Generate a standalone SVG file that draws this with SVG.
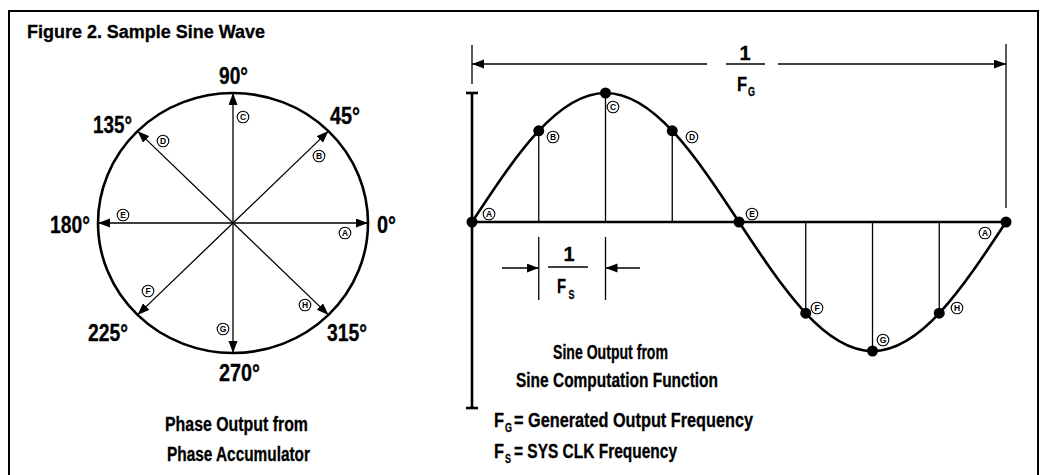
<svg xmlns="http://www.w3.org/2000/svg" width="1040" height="475" viewBox="0 0 1040 475">
<style>
.t{font-family:"Liberation Sans",Arial,sans-serif;font-weight:bold;fill:#000;stroke:#000;stroke-width:0.3}
.deg{font-size:23px}
.lbl{font-size:20px}
.sub{font-size:12px}
.ln{stroke:#000;stroke-width:1.3;fill:none}
.thk{stroke:#000;stroke-width:2.6;fill:none}
.cl circle{fill:#fff;stroke:#000;stroke-width:1.1}
.cl text{font-family:"Liberation Sans",Arial,sans-serif;font-weight:bold;font-size:8.5px;text-anchor:middle}
</style>
<defs>
<marker id="ah" markerUnits="userSpaceOnUse" markerWidth="13" markerHeight="10" refX="12" refY="4.5" orient="auto">
<path d="M0,0 L12,4.5 L0,9 z" fill="#000"/>
</marker>
</defs>
<rect width="1040" height="475" fill="#fff"/>
<path d="M9,475 V11 H1038 V475" fill="none" stroke="#000" stroke-width="2"/>
<text class="t" x="27" y="38" font-size="18" textLength="238" lengthAdjust="spacingAndGlyphs">Figure 2. Sample Sine Wave</text>

<g id="phase-circle">
<ellipse cx="233" cy="223" rx="135" ry="130" class="thk"/>
</g>
<g id="phase-arrows">
<line x1="233" y1="223" x2="368" y2="223" class="ln" marker-end="url(#ah)"/>
<line x1="233" y1="223" x2="328.5" y2="131.1" class="ln" marker-end="url(#ah)"/>
<line x1="233" y1="223" x2="233" y2="93" class="ln" marker-end="url(#ah)"/>
<line x1="233" y1="223" x2="137.5" y2="131.1" class="ln" marker-end="url(#ah)"/>
<line x1="233" y1="223" x2="98" y2="223" class="ln" marker-end="url(#ah)"/>
<line x1="233" y1="223" x2="137.5" y2="314.9" class="ln" marker-end="url(#ah)"/>
<line x1="233" y1="223" x2="233" y2="353" class="ln" marker-end="url(#ah)"/>
<line x1="233" y1="223" x2="328.5" y2="314.9" class="ln" marker-end="url(#ah)"/>
</g>
<g id="phase-degrees">
<text class="t deg" x="219" y="84" textLength="29" lengthAdjust="spacingAndGlyphs">90°</text>
<text class="t deg" x="330" y="124" textLength="30" lengthAdjust="spacingAndGlyphs">45°</text>
<text class="t deg" x="93" y="133" textLength="39" lengthAdjust="spacingAndGlyphs">135°</text>
<text class="t deg" x="50" y="233" textLength="40" lengthAdjust="spacingAndGlyphs">180°</text>
<text class="t deg" x="377" y="233" textLength="19" lengthAdjust="spacingAndGlyphs">0°</text>
<text class="t deg" x="88" y="341" textLength="40" lengthAdjust="spacingAndGlyphs">225°</text>
<text class="t deg" x="327" y="341" textLength="40" lengthAdjust="spacingAndGlyphs">315°</text>
<text class="t deg" x="219" y="381" textLength="41" lengthAdjust="spacingAndGlyphs">270°</text>
</g>
<g id="phase-letters" class="cl">
<g id="pA"><circle cx="345" cy="233" r="5.8"/><text x="345" y="236">A</text></g>
<g id="pB"><circle cx="319" cy="156" r="5.8"/><text x="319" y="159">B</text></g>
<g id="pC"><circle cx="243" cy="117" r="5.8"/><text x="243" y="120">C</text></g>
<g id="pD"><circle cx="163" cy="141" r="5.8"/><text x="163" y="144">D</text></g>
<g id="pE"><circle cx="123" cy="215" r="5.8"/><text x="123" y="218">E</text></g>
<g id="pF"><circle cx="148" cy="291" r="5.8"/><text x="148" y="294">F</text></g>
<g id="pG"><circle cx="223" cy="329" r="5.8"/><text x="223" y="332">G</text></g>
<g id="pH"><circle cx="305" cy="305" r="5.8"/><text x="305" y="308">H</text></g>
</g>
<g id="phase-caption">
<text class="t lbl" x="165" y="431" textLength="143" lengthAdjust="spacingAndGlyphs">Phase Output from</text>
<text class="t lbl" x="167" y="461" textLength="143" lengthAdjust="spacingAndGlyphs">Phase Accumulator</text>
</g>

<g id="sine-axes">
<line x1="472" y1="93" x2="472" y2="408" class="thk"/>
<line x1="466" y1="93" x2="478" y2="93" class="thk"/>
<line x1="466" y1="408" x2="478" y2="408" class="thk"/>
<line x1="472" y1="222" x2="1006" y2="222" class="thk"/>
</g>
<g id="sine-verticals">
<line x1="538.75" y1="130.8" x2="538.75" y2="222" class="ln"/>
<line x1="605.5" y1="93" x2="605.5" y2="222" class="ln"/>
<line x1="672.25" y1="130.8" x2="672.25" y2="222" class="ln"/>
<line x1="805.75" y1="222" x2="805.75" y2="313.2" class="ln"/>
<line x1="872.5" y1="222" x2="872.5" y2="351" class="ln"/>
<line x1="939.25" y1="222" x2="939.25" y2="313.2" class="ln"/>
</g>
<g id="sine-curve">
<path class="thk" d="M472,222 C515.54,155.91 557.19,93 605.5,93 C653.81,93 695.46,155.91 739,222 C782.54,288.09 824.19,351 872.5,351 C920.81,351 962.46,288.09 1006,222"/>
</g>
<g id="sine-dots" fill="#000">
<circle cx="472" cy="222" r="5.5"/>
<circle cx="538.75" cy="130.8" r="5.5"/>
<circle cx="605.5" cy="93" r="5.5"/>
<circle cx="672.25" cy="130.8" r="5.5"/>
<circle cx="739" cy="222" r="5.5"/>
<circle cx="805.75" cy="313.2" r="5.5"/>
<circle cx="872.5" cy="351" r="5.5"/>
<circle cx="939.25" cy="313.2" r="5.5"/>
<circle cx="1006" cy="222" r="5.5"/>
</g>
<g id="sine-letters" class="cl">
<g id="sA1"><circle cx="489" cy="214" r="5.8"/><text x="489" y="217">A</text></g>
<g id="sB"><circle cx="553" cy="137" r="5.8"/><text x="553" y="140">B</text></g>
<g id="sC"><circle cx="613" cy="107" r="5.8"/><text x="613" y="110">C</text></g>
<g id="sD"><circle cx="692" cy="137" r="5.8"/><text x="692" y="140">D</text></g>
<g id="sE"><circle cx="752" cy="214" r="5.8"/><text x="752" y="217">E</text></g>
<g id="sF"><circle cx="817" cy="308" r="5.8"/><text x="817" y="311">F</text></g>
<g id="sG"><circle cx="883" cy="340" r="5.8"/><text x="883" y="343">G</text></g>
<g id="sH"><circle cx="957" cy="308" r="5.8"/><text x="957" y="311">H</text></g>
<g id="sA2"><circle cx="985" cy="233" r="5.8"/><text x="985" y="236">A</text></g>
</g>

<g id="period-FG">
<line x1="472" y1="45" x2="472" y2="84" class="ln" stroke-width="1.6"/>
<line x1="1006" y1="44" x2="1006" y2="208" class="ln" stroke-width="1.6"/>
<line x1="707" y1="64" x2="472" y2="64" class="ln" marker-end="url(#ah)"/>
<line x1="778" y1="64" x2="1006" y2="64" class="ln" marker-end="url(#ah)"/>
<line x1="726" y1="64" x2="765" y2="64" class="ln"/>
<text class="t lbl" x="745" y="60" text-anchor="middle">1</text>
<text class="t lbl" x="737" y="91" textLength="10" lengthAdjust="spacingAndGlyphs">F</text>
<text class="t sub" x="748" y="96" textLength="7" lengthAdjust="spacingAndGlyphs">G</text>
</g>
<g id="period-FS">
<line x1="538.75" y1="237" x2="538.75" y2="300" class="ln"/>
<line x1="605.5" y1="237" x2="605.5" y2="300" class="ln"/>
<line x1="502" y1="268" x2="538.75" y2="268" class="ln" marker-end="url(#ah)"/>
<line x1="640" y1="268" x2="605.5" y2="268" class="ln" marker-end="url(#ah)"/>
<line x1="548" y1="267" x2="588" y2="267" class="ln"/>
<text class="t lbl" x="569" y="261" text-anchor="middle">1</text>
<text class="t lbl" x="557" y="293" textLength="9" lengthAdjust="spacingAndGlyphs">F</text>
<text class="t sub" x="568.5" y="299" textLength="6" lengthAdjust="spacingAndGlyphs">S</text>
</g>

<g id="sine-caption">
<text class="t lbl" x="553" y="359" textLength="115" lengthAdjust="spacingAndGlyphs">Sine Output from</text>
<text class="t lbl" x="516" y="387" textLength="202" lengthAdjust="spacingAndGlyphs">Sine Computation Function</text>
</g>
<g id="legend">
<text class="t lbl" x="494" y="427" textLength="10" lengthAdjust="spacingAndGlyphs">F</text>
<text class="t sub" x="505" y="432" textLength="7" lengthAdjust="spacingAndGlyphs">G</text>
<text class="t lbl" x="514" y="427" textLength="239" lengthAdjust="spacingAndGlyphs">= Generated Output Frequency</text>
<text class="t lbl" x="494" y="458" textLength="10" lengthAdjust="spacingAndGlyphs">F</text>
<text class="t sub" x="505" y="463" textLength="6" lengthAdjust="spacingAndGlyphs">S</text>
<text class="t lbl" x="514" y="458" textLength="163" lengthAdjust="spacingAndGlyphs">= SYS CLK Frequency</text>
</g>
</svg>
